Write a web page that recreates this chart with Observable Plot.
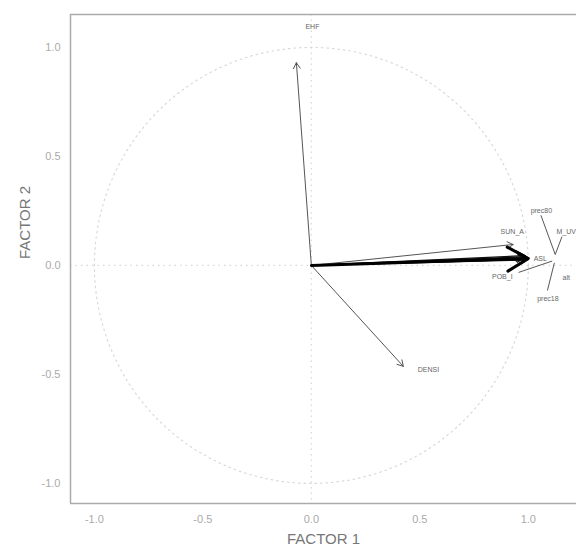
<!DOCTYPE html>
<html>
<head>
<meta charset="utf-8">
<script src="https://cdn.jsdelivr.net/npm/d3@7"></script>
<script src="https://cdn.jsdelivr.net/npm/@observablehq/plot@0.6"></script>
<style>
  body { margin: 0; background: #fff; }
  #chart { width: 576px; height: 548px; }
</style>
</head>
<body>
<div id="chart"></div>
<script>
// Variable loadings (arrow tips) on factors 1 and 2
const variables = ["EHF", "DENSI", "SUN_A", "ASL", "POB_I", "prec80", "M_UV", "alt", "prec18"];
const factor1 =   [-0.069, 0.424, 0.93, 1.0, 0.995, 0.99, 1.0, 0.985, 0.995];
const factor2 =   [0.93, -0.463, 0.096, 0.032, 0.025, 0.04, 0.035, 0.045, 0.028];

// Label positions
const labelText = ["EHF", "DENSI", "SUN_A", "ASL", "POB_I", "prec80", "M_UV", "alt", "prec18"];
const labelX =    [0.005, 0.54, 0.926, 1.055, 0.88, 1.06, 1.175, 1.175, 1.09];
const labelY =    [1.095, -0.477, 0.156, 0.032, -0.05, 0.252, 0.156, -0.055, -0.152];
const labelAnchor = ["middle", "start", "middle", "middle", "middle", "middle", "middle", "middle", "middle"];

// Leader segments from labels to the cluster point
const segX1 = [1.058, 1.155, 0.955, 1.12];
const segY1 = [0.23, 0.132, -0.032, 0.012];
const segX2 = [1.124, 1.124, 1.11, 1.088];
const segY2 = [0.05, 0.05, 0.02, -0.115];

const xTicks = [-1.0, -0.5, 0.0, 0.5, 1.0];
const yTicks = [-1.0, -0.5, 0.0, 0.5, 1.0];

const arrows = variables.map((v, i) => ({v, x: factor1[i], y: factor2[i], thick: i >= 3}));
const labels = labelText.map((t, i) => ({t, x: labelX[i], y: labelY[i], a: labelAnchor[i]}));
const segs = segX1.map((d, i) => ({x1: segX1[i], y1: segY1[i], x2: segX2[i], y2: segY2[i]}));
const circle = d3.range(0, 361, 2).map(a => ({x: Math.cos(a * Math.PI / 180), y: Math.sin(a * Math.PI / 180)}));

const xDom = [-1.11, 1.222];
const yDom = [-1.092, 1.151];
const fmt = d => d.toFixed(1);

const chart = Plot.plot({
  width: 576,
  height: 548,
  marginLeft: 70,
  marginRight: 0,
  marginTop: 14,
  marginBottom: 45,
  style: {fontFamily: "Liberation Sans, Arial, sans-serif", background: "#fff"},
  x: {domain: xDom, label: null},
  y: {domain: yDom, label: null},
  marks: [
    Plot.line(circle, {x: "x", y: "y", stroke: "#d8d8d8", strokeDasharray: "1.5,4", strokeWidth: 1.2}),
    Plot.ruleX([0], {stroke: "#d8d8d8", strokeDasharray: "1.5,4", strokeWidth: 1.2}),
    Plot.ruleY([0], {stroke: "#d8d8d8", strokeDasharray: "1.5,4", strokeWidth: 1.2}),
    Plot.link(segs, {x1: "x1", y1: "y1", x2: "x2", y2: "y2", stroke: "#444", strokeWidth: 0.9}),
    Plot.arrow(arrows.filter(d => !d.thick), {x1: () => 0, y1: () => 0, x2: "x", y2: "y", stroke: "#555", strokeWidth: 1, headLength: 10}),
    Plot.arrow(arrows.filter(d => d.thick), {x1: () => 0, y1: () => 0, x2: "x", y2: "y", stroke: "#111", strokeWidth: 1.3, headLength: 12}),
    Plot.arrow([arrows[3]], {x1: () => 0, y1: () => 0, x2: "x", y2: "y", stroke: "#000", strokeWidth: 3, headLength: 12}),
    Plot.text(labels, {x: "x", y: "y", text: "t", textAnchor: "a", fontSize: 7, fill: "#666"}),
    Plot.ruleX([xDom[0]], {stroke: "#aaa", strokeWidth: 1.5}),
    Plot.ruleY([yDom[0]], {stroke: "#aaa", strokeWidth: 1.5}),
    Plot.ruleY([yDom[1]], {stroke: "#aaa", strokeWidth: 1.5}),
    Plot.axisX({ticks: xTicks, tickFormat: fmt, tickSize: 0, tickPadding: 12, fontSize: 11, color: "#aaa", label: null}),
    Plot.axisY({ticks: yTicks, tickFormat: fmt, tickSize: 0, tickPadding: 10, fontSize: 11, color: "#aaa", label: null}),
    Plot.text(["FACTOR 1"], {frameAnchor: "bottom", dy: 40, fontSize: 15, fill: "#777"}),
    Plot.text(["FACTOR 2"], {frameAnchor: "left", dx: -45, rotate: -90, fontSize: 15, fill: "#777"})
  ]
});
document.getElementById("chart").appendChild(chart);
</script>
</body>
</html>
